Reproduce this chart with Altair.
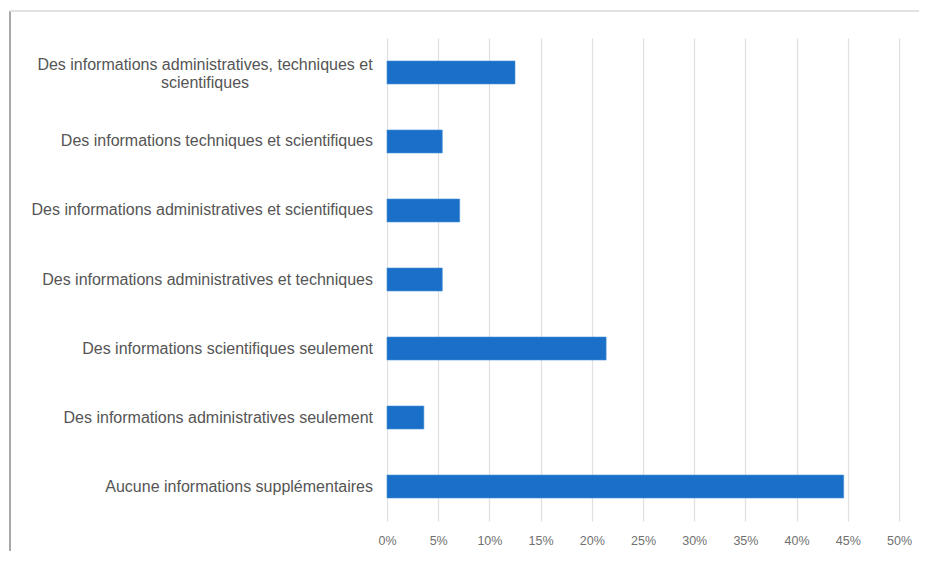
import altair as alt
import pandas as pd

categories = [
    "Des informations administratives, techniques et\nscientifiques",
    "Des informations techniques et scientifiques",
    "Des informations administratives et scientifiques",
    "Des informations administratives et techniques",
    "Des informations scientifiques seulement",
    "Des informations administratives seulement",
    "Aucune informations supplémentaires",
]
values = [0.125, 0.054, 0.071, 0.054, 0.214, 0.036, 0.446]
x_ticks = [0, 0.05, 0.10, 0.15, 0.20, 0.25, 0.30, 0.35, 0.40, 0.45, 0.50]

df = pd.DataFrame({"cat": categories, "val": values})
df["multi"] = df["cat"].str.contains("\n")

BAR = "#1a70c8"
LABEL = "#555555"
FONT = "Liberation Sans"

yscale = alt.Scale(domain=categories, paddingInner=0.667, paddingOuter=0.333)
y_enc = alt.Y("cat:N", scale=yscale, sort=categories, axis=None)

bars = alt.Chart(df).mark_bar(color=BAR, stroke="#4a90d6", strokeWidth=0.6).encode(
    x=alt.X(
        "val:Q",
        scale=alt.Scale(domain=[0, 0.5], nice=False),
        axis=alt.Axis(
            values=x_ticks,
            format=".0%",
            title=None,
            domain=False,
            ticks=False,
            grid=True,
            gridColor="#e0e0e0",
            gridWidth=1.2,
            labelColor="#707070",
            labelFontSize=12.5,
            labelFont=FONT,
            labelPadding=13,
            labelFlush=False,
            labelBound=False,
        ),
    ),
    y=y_enc,
)

labels_single = alt.Chart(df).transform_filter("!datum.multi").mark_text(
    align="right", baseline="middle", fontSize=16, font=FONT, color=LABEL
).encode(y=y_enc, x=alt.value(-14), text="cat:N")

labels_multi = alt.Chart(df).transform_filter("datum.multi").mark_text(
    align="center", baseline="middle", fontSize=16, font=FONT, color=LABEL,
    lineBreak="\n", lineHeight=18, dy=-7
).encode(y=y_enc, x=alt.value(-182), text="cat:N")

frame_left = alt.Chart(df).mark_rule(color="#a8a8a8", strokeWidth=2).encode(
    x=alt.value(-377), y=alt.value(-27), y2=alt.value(540)
)
frame_top = alt.Chart(df).mark_rule(color="#e2e2e2", strokeWidth=1.5).encode(
    x=alt.value(-377), x2=alt.value(545), y=alt.value(-27)
)

chart = (
    alt.layer(frame_left, frame_top, bars, labels_single, labels_multi)
    .properties(
        width=512,
        height=483,
        background="white",
        autosize=alt.AutoSizeParams(type="none"),
        padding={"left": 379, "top": 30, "right": 20, "bottom": 30},
    )
    .configure_view(strokeWidth=0)
)

chart.save("out.html", embed_options={"renderer": "svg", "actions": False})
